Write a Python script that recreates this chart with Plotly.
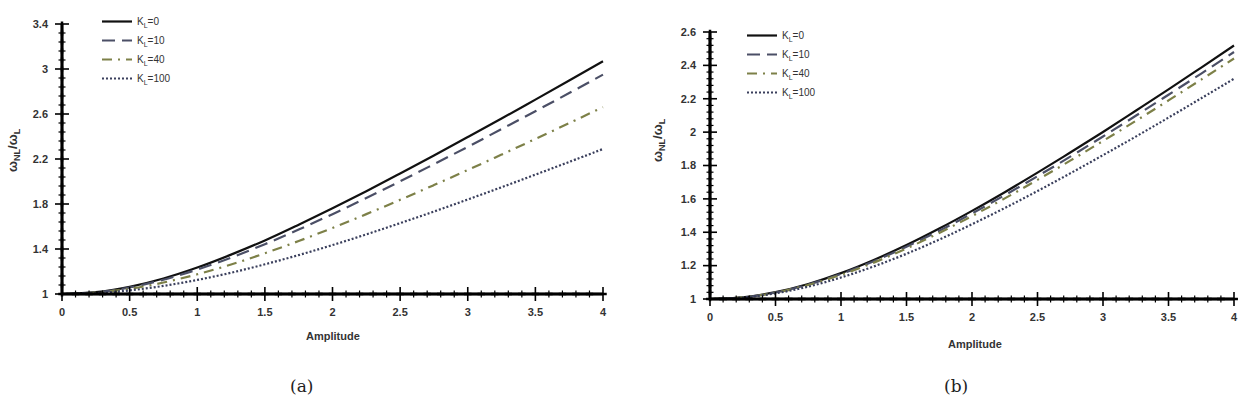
import numpy as np
import plotly.graph_objects as go

# ---------------- data ----------------
amplitude = [0, 0.25, 0.5, 0.75, 1, 1.25, 1.5, 1.75, 2, 2.25, 2.5, 2.75, 3, 3.25, 3.5, 3.75, 4]

# panel (a)
a_k0 = [1.0, 1.016, 1.064, 1.138, 1.235, 1.350, 1.476, 1.616, 1.762, 1.914, 2.071, 2.231, 2.395, 2.560, 2.728, 2.898, 3.069]
a_k10 = [1.0, 1.015, 1.058, 1.127, 1.217, 1.323, 1.443, 1.573, 1.710, 1.853, 2.002, 2.154, 2.308, 2.466, 2.625, 2.786, 2.950]
a_k40 = [1.0, 1.012, 1.046, 1.102, 1.175, 1.262, 1.362, 1.471, 1.587, 1.710, 1.837, 1.968, 2.102, 2.239, 2.378, 2.519, 2.661]
a_k100 = [1.0, 1.008, 1.032, 1.072, 1.125, 1.189, 1.264, 1.346, 1.435, 1.530, 1.630, 1.733, 1.840, 1.949, 2.061, 2.174, 2.289]

# panel (b)
b_k0 = [1.0, 1.010, 1.041, 1.090, 1.155, 1.234, 1.323, 1.422, 1.528, 1.640, 1.757, 1.878, 2.001, 2.128, 2.256, 2.387, 2.519]
b_k10 = [1.0, 1.010, 1.039, 1.087, 1.150, 1.226, 1.313, 1.409, 1.513, 1.622, 1.736, 1.853, 1.974, 2.098, 2.224, 2.351, 2.480]
b_k40 = [1.0, 1.010, 1.038, 1.084, 1.145, 1.218, 1.303, 1.396, 1.497, 1.603, 1.714, 1.829, 1.947, 2.067, 2.190, 2.315, 2.441]
b_k100 = [1.0, 1.009, 1.034, 1.074, 1.129, 1.195, 1.271, 1.356, 1.448, 1.545, 1.647, 1.753, 1.862, 1.973, 2.087, 2.203, 2.320]

series_names = ["K<sub>L</sub>=0", "K<sub>L</sub>=10", "K<sub>L</sub>=40", "K<sub>L</sub>=100"]

# tick values / labels
x_ticks = [0, 0.5, 1, 1.5, 2, 2.5, 3, 3.5, 4]
x_ticktext = ["0", "0.5", "1", "1.5", "2", "2.5", "3", "3.5", "4"]
ya_ticks = [1, 1.4, 1.8, 2.2, 2.6, 3, 3.4]
ya_ticktext = ["1", "1.4", "1.8", "2.2", "2.6", "3", "3.4"]
yb_ticks = [1, 1.2, 1.4, 1.6, 1.8, 2, 2.2, 2.4, 2.6]
yb_ticktext = ["1", "1.2", "1.4", "1.6", "1.8", "2", "2.2", "2.4", "2.6"]
x_minor_step = 0.1
ya_minor_step = 0.08
yb_minor_step = 0.04

styles = [
    dict(color="#111111", width=2.2, dash="solid"),
    dict(color="#4b4f66", width=2.2, dash="13px,7px"),
    dict(color="#7d8048", width=2.2, dash="10px,6px,2px,6px"),
    dict(color="#3a3f5c", width=2.2, dash="2px,2px"),
]

W, H = 1254, 413
PAD = 8

fig = go.Figure()

def minor_vals(lo, hi, step, majors):
    vals = np.round(np.arange(lo, hi + step / 2, step), 4)
    return [float(v) for v in vals if min(abs(v - m) for m in majors) > 1e-6]

def add_axes(xa, ya, xrng, yrng, yticks, ystep, x_seg, y_seg):
    common = dict(xaxis=xa, yaxis=ya, showlegend=False, hoverinfo="skip", cliponaxis=False)
    xm = minor_vals(xrng[0], xrng[1], x_minor_step, x_ticks)
    ym = minor_vals(yrng[0], yrng[1], ystep, yticks)
    xs = sorted(x_ticks + xm)
    ysv = sorted(yticks + ym)
    # axis lines as shapes in data coordinates
    fig.add_shape(type="line", xref=xa, yref=ya, x0=xrng[0], x1=xrng[1], y0=yrng[0], y1=yrng[0],
                  line=dict(color="#000000", width=2.5), layer="above")
    fig.add_shape(type="line", xref=xa, yref=ya, x0=xrng[0], x1=xrng[0], y0=yrng[0], y1=yrng[1],
                  line=dict(color="#000000", width=2.5), layer="above")
    # axis lines as polylines
    fig.add_trace(go.Scatter(x=xs, y=[yrng[0]] * len(xs), mode="lines",
                             line=dict(color="#000000", width=2.5), **common))
    fig.add_trace(go.Scatter(x=[xrng[0]] * len(ysv), y=ysv, mode="lines",
                             line=dict(color="#000000", width=2.5), **common))
    # reinforced by abutting segment markers
    xs_mid = [(a + b) / 2 for a, b in zip(xs[:-1], xs[1:])]
    ys_mid = [(a + b) / 2 for a, b in zip(ysv[:-1], ysv[1:])]
    fig.add_trace(go.Scatter(x=xs_mid, y=[yrng[0]] * len(xs_mid), mode="markers",
                             marker=dict(symbol="line-ew", size=x_seg, line=dict(color="black", width=2.5)),
                             **common))
    fig.add_trace(go.Scatter(x=[xrng[0]] * len(ys_mid), y=ys_mid, mode="markers",
                             marker=dict(symbol="line-ns", size=y_seg, line=dict(color="black", width=2.5)),
                             **common))
    # major ticks (crossing)
    fig.add_trace(go.Scatter(x=x_ticks, y=[yrng[0]] * len(x_ticks), mode="markers",
                             marker=dict(symbol="line-ns", size=10, line=dict(color="black", width=1.6)),
                             **common))
    fig.add_trace(go.Scatter(x=[xrng[0]] * len(yticks), y=yticks, mode="markers",
                             marker=dict(symbol="line-ew", size=10, line=dict(color="black", width=1.6)),
                             **common))
    # minor ticks
    fig.add_trace(go.Scatter(x=xm, y=[yrng[0]] * len(xm), mode="markers",
                             marker=dict(symbol="line-ns", size=5, line=dict(color="black", width=1.2)),
                             **common))
    fig.add_trace(go.Scatter(x=[xrng[0]] * len(ym), y=ym, mode="markers",
                             marker=dict(symbol="line-ew", size=5, line=dict(color="black", width=1.2)),
                             **common))

for ys, name, st in zip([a_k0, a_k10, a_k40, a_k100], series_names, styles):
    fig.add_trace(go.Scatter(x=amplitude, y=ys, name=name, mode="lines",
                             line=dict(shape="spline", **st),
                             xaxis="x", yaxis="y", legend="legend"))
for ys, name, st in zip([b_k0, b_k10, b_k40, b_k100], series_names, styles):
    fig.add_trace(go.Scatter(x=amplitude, y=ys, name=name, mode="lines",
                             line=dict(shape="spline", **st),
                             xaxis="x2", yaxis="y2", legend="legend2"))

add_axes("x", "y", [0, 4], [1, 3.4], ya_ticks, ya_minor_step, 15, 10)
add_axes("x2", "y2", [0, 4], [1, 2.6], yb_ticks, yb_minor_step, 15, 8)

def padded_x(rng, p0, p1):
    k = (p1 - p0) / (rng[1] - rng[0])
    pad = PAD / k
    return [rng[0] - pad, rng[1] + pad], [(p0 - PAD) / W, (p1 + PAD) / W]

def padded_y(rng, p_bottom, p_top):
    k = (p_bottom - p_top) / (rng[1] - rng[0])
    pad = PAD / k
    return [rng[0] - pad, rng[1] + pad], [1 - (p_bottom + PAD) / H, 1 - (p_top - PAD) / H]

tickfont = dict(family="Liberation Sans", size=11, color="#333333")

def bold(lst):
    return ["<b>" + t + "</b>" for t in lst]

def xaxis_cfg(rng, dom, anchor):
    return dict(range=rng, domain=dom, anchor=anchor, tickvals=x_ticks,
                ticktext=bold(x_ticktext), ticks="", showline=False, showgrid=False,
                zeroline=False, tickfont=tickfont, ticklabelstandoff=10 - PAD, fixedrange=True)

def yaxis_cfg(rng, tv, tt, dom, anchor):
    return dict(range=rng, domain=dom, anchor=anchor, tickvals=tv, ticktext=bold(tt),
                ticks="", showline=False, showgrid=False, zeroline=False,
                tickfont=tickfont, ticklabelstandoff=13 - PAD, fixedrange=True)

xa_rng, xa_dom = padded_x([0, 4], 62, 603)
ya_rng, ya_dom = padded_y([1, 3.4], 294, 24)
xb_rng, xb_dom = padded_x([0, 4], 710, 1234)
yb_rng, yb_dom = padded_y([1, 2.6], 299, 32)

legend_font = dict(family="Liberation Sans", size=10, color="#333333")

fig.update_layout(
    width=W, height=H,
    margin=dict(l=0, r=0, t=0, b=0),
    paper_bgcolor="white", plot_bgcolor="rgba(0,0,0,0)",
    xaxis=xaxis_cfg(xa_rng, xa_dom, "y"),
    yaxis=yaxis_cfg(ya_rng, ya_ticks, ya_ticktext, ya_dom, "x"),
    xaxis2=xaxis_cfg(xb_rng, xb_dom, "y2"),
    yaxis2=yaxis_cfg(yb_rng, yb_ticks, yb_ticktext, yb_dom, "x2"),
    legend=dict(x=97 / W, y=1 - 7 / H, xanchor="left", yanchor="top",
                bgcolor="rgba(0,0,0,0)", font=legend_font, tracegroupgap=0),
    legend2=dict(x=742 / W, y=1 - 21 / H, xanchor="left", yanchor="top",
                 bgcolor="rgba(0,0,0,0)", font=legend_font, tracegroupgap=0),
    showlegend=True,
)

ann_font = dict(family="Liberation Sans", size=11, color="#333333")
def add_text(text, x, y, font, angle=0):
    fig.add_annotation(text=text, x=x / W, y=1 - y / H, xref="paper", yref="paper",
                       xanchor="center", yanchor="middle", showarrow=False,
                       textangle=angle, font=font)

add_text("<b>Amplitude</b>", 333, 336, ann_font)
add_text("<b>Amplitude</b>", 975, 344, ann_font)
yt_font = dict(family="Liberation Sans", size=13, color="#333333")
add_text("<b>ω<sub>NL</sub>/ω<sub>L</sub></b>", 13, 150, yt_font, -90)
add_text("<b>ω<sub>NL</sub>/ω<sub>L</sub></b>", 658, 140, yt_font, -90)
cap_font = dict(family="DejaVu Serif", size=17, color="#222222")
add_text("(a)", 301, 386, cap_font)
add_text("(b)", 956, 386, cap_font)

fig.write_html("out.html")
